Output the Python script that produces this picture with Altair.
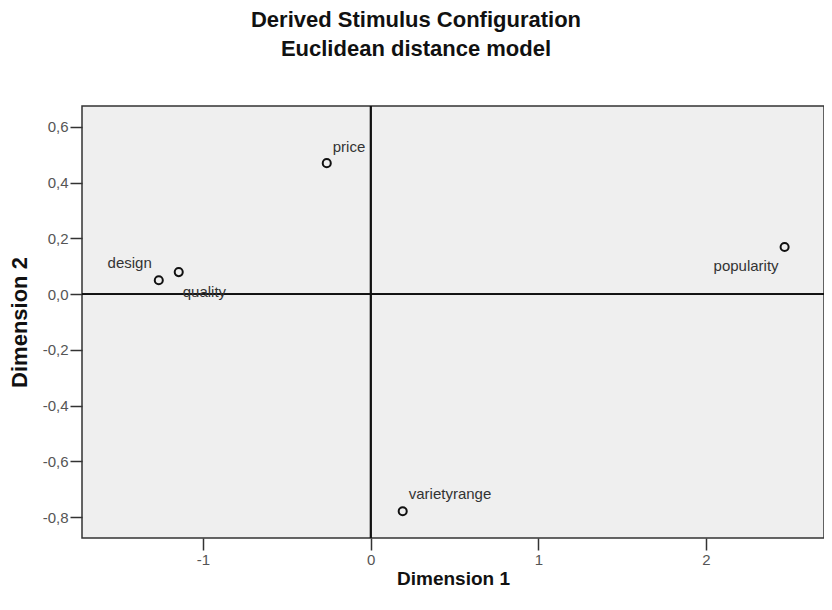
import altair as alt
import pandas as pd

names = ["design", "quality", "price", "popularity", "varietyrange"]
dim1 = [-1.264, -1.145, -0.262, 2.469, 0.191]
dim2 = [0.05, 0.079, 0.47, 0.169, -0.779]
x_ticks = [-1, 0, 1, 2]
y_ticks = [-0.8, -0.6, -0.4, -0.2, 0.0, 0.2, 0.4, 0.6]

df = pd.DataFrame({"name": names, "d1": dim1, "d2": dim2})

# label placement styles (offsets in pixels)
label_style = {
    "design": dict(align="right", dx=-7, dy=-17),
    "quality": dict(align="left", dx=4, dy=20),
    "price": dict(align="left", dx=6, dy=-16),
    "popularity": dict(align="right", dx=-6, dy=19),
    "varietyrange": dict(align="left", dx=6, dy=-17),
}

FONT = "Liberation Sans"
xs = alt.Scale(domain=[-1.722, 2.704], nice=False, zero=False)
ys = alt.Scale(domain=[-0.875, 0.675], nice=False, zero=False)
ylab = "replace(replace(format(datum.value, '.1f'), '.', ','), '\u2212', '-')"
xlab = "replace(format(datum.value, 'd'), '\u2212', '-')"

x_enc = alt.X("d1:Q", scale=xs, title="Dimension 1",
              axis=alt.Axis(values=x_ticks, grid=False, labelExpr=xlab))
y_enc = alt.Y("d2:Q", scale=ys, title="Dimension 2",
              axis=alt.Axis(values=y_ticks, grid=False, labelExpr=ylab))

base = alt.Chart(df)

zero_x = alt.Chart(df).mark_rule(color="#111", strokeWidth=1.5).encode(
    x=alt.datum(0, scale=xs))
zero_y = alt.Chart(df).mark_rule(color="#111", strokeWidth=1.5).encode(
    y=alt.datum(0, scale=ys))

points = base.mark_point(shape="circle", filled=False, color="#111",
                         size=65, strokeWidth=2, opacity=1).encode(x=x_enc, y=y_enc)

texts = []
for n in names:
    st = label_style[n]
    texts.append(
        base.transform_filter(alt.datum.name == n)
        .mark_text(font=FONT, fontSize=15, color="#333", align=st["align"],
                   baseline="middle", dx=st["dx"], dy=st["dy"])
        .encode(x=alt.X("d1:Q", scale=xs), y=alt.Y("d2:Q", scale=ys), text="name:N")
    )

chart = alt.layer(zero_x, zero_y, points, *texts).properties(
    width=742, height=432,
    autosize=alt.AutoSizeParams(type="none"),
    padding={"left": 74, "top": 98, "right": 0, "bottom": 60},
    title=alt.TitleParams(
        text="Derived Stimulus Configuration",
        subtitle="Euclidean distance model",
        anchor="middle", font=FONT, fontSize=22, fontWeight="bold", color="#111",
        subtitleFont=FONT, subtitleFontSize=22, subtitleFontWeight="bold",
        subtitleColor="#111", subtitlePadding=7, offset=44, dx=-37,
    ),
).configure_view(fill="#efefef", stroke="#333", strokeWidth=1.5
).configure_axis(
    labelFont=FONT, labelFontSize=15, labelColor="#555",
    titleFont=FONT, titleFontWeight="bold", titleColor="#111",
    domain=False, tickColor="#333", tickSize=12, tickWidth=1.5, labelPadding=2,
).configure_axisX(titlePadding=2, titleFontSize=19).configure_axisY(
    titlePadding=11, titleFontSize=22)

chart.save("out.html", embed_options={"renderer": "svg", "actions": False})
